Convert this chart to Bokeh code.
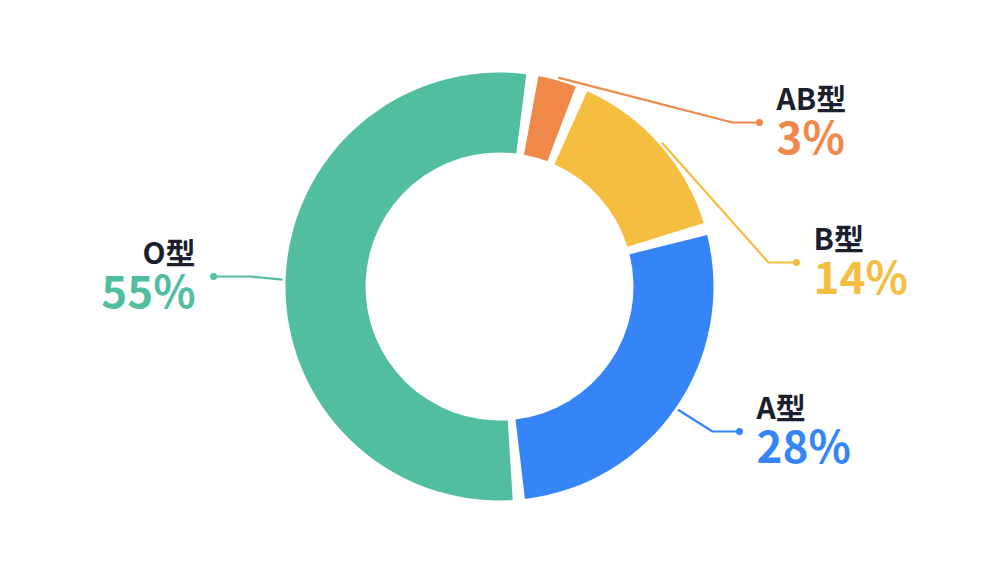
import math
from bokeh.plotting import figure
from bokeh.models import Range1d, ColumnDataSource
from bokeh.core.properties import value
from bokeh.embed import file_html
from bokeh.resources import INLINE

# ---- data ----
types = ["AB型", "B型", "A型", "O型"]
values = [3, 14, 28, 55]
pct_labels = ["3%", "14%", "28%", "55%"]
colors = ["#F0884A", "#F5BE41", "#3585F8", "#52BEA0"]

# ---- layout (page pixel coordinates, y measured downward) ----
W, H = 1000, 569
CX, CY = 499, 286
R_OUT, R_IN = 214, 134
START_DEG = 10.5      # clockwise from 12 o'clock
PAD_DEG = 3.3
# dot end of each leader line and its elbow
dots = [(759, 122), (796, 262), (739, 431), (213, 276)]
elbows = [(732, 122), (768, 262), (712, 431), (250, 276)]
sides = ["right", "right", "right", "left"]
NAME_COLOR = "#1B1F2E"
FONT = "Noto Sans CJK SC"
NAME_DY = -26
PCT_DY = 12


def Y(y):
    return H - y


p = figure(width=984, height=553, output_backend="svg", toolbar_location=None,
           x_range=Range1d(0, 984), y_range=Range1d(H - 553, H),
           x_axis_location=None, y_axis_location=None, min_border=0)
p.grid.visible = False
p.outline_line_color = None
p.background_fill_color = "white"
p.border_fill_color = "white"

total = sum(values)
span_total = 360 - PAD_DEG * len(values)
starts, ends, mids = [], [], []
a = START_DEG
for v in values:
    span = v / total * span_total
    starts.append(a)
    ends.append(a + span)
    mids.append(a + span / 2)
    a += span + PAD_DEG

src = ColumnDataSource(dict(
    start=[math.radians(90 - s) for s in starts],
    end=[math.radians(90 - e) for e in ends],
    color=colors,
))
p.annular_wedge(x=CX, y=Y(CY), inner_radius=R_IN, outer_radius=R_OUT,
                start_angle="start", end_angle="end", direction="clock",
                fill_color="color", line_color=None, source=src)

for i in range(len(values)):
    m = math.radians(mids[i])
    sx = CX + (R_OUT + 3) * math.sin(m)
    sy = CY - (R_OUT + 3) * math.cos(m)
    ex, ey = elbows[i]
    dx, dy = dots[i]
    p.line([sx, ex, dx], [Y(sy), Y(ey), Y(dy)], line_color=colors[i], line_width=2.2)
    p.scatter([dx], [Y(dy)], size=7, fill_color=colors[i], line_color=None)
    if sides[i] == "right":
        tx, align = dx + 17, "left"
    else:
        tx, align = dx - 18, "right"
    p.text([tx], [Y(dy + NAME_DY)], text=[types[i]], text_font=value(FONT),
           text_font_style="bold", text_font_size="30px", text_color=NAME_COLOR,
           text_align=align, text_baseline="alphabetic")
    p.text([tx], [Y(dy + PCT_DY)], text=[pct_labels[i]], text_font=value(FONT),
           text_font_style="bold", text_font_size="44px", text_color=colors[i],
           text_align=align, text_baseline="alphabetic")

open("out.html", "w").write(file_html(p, INLINE))
